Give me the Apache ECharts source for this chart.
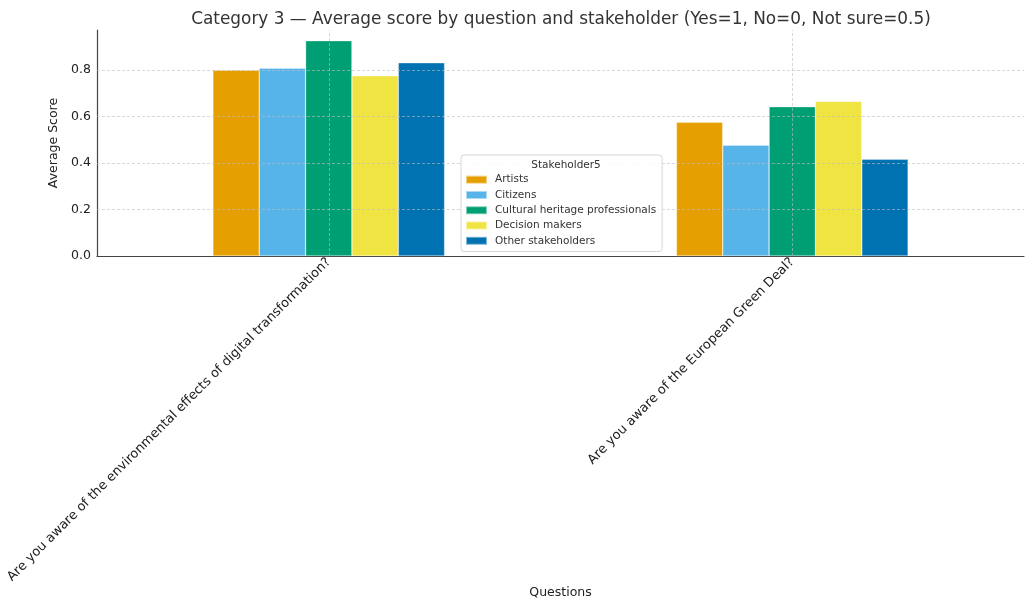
<!DOCTYPE html>
<html>
<head>
<meta charset="utf-8">
<script src="https://cdn.jsdelivr.net/npm/echarts@6/dist/echarts.min.js"></script>
<style>html,body{margin:0;padding:0;background:#fff}#c{width:1025px;height:607px}</style>
</head>
<body>
<div id="c"></div>
<script>
const questions = [
  "Are you aware of the environmental effects of digital transformation?",
  "Are you aware of the European Green Deal?"
];
const stakeholders = ["Artists", "Citizens", "Cultural heritage professionals", "Decision makers", "Other stakeholders"];
const artists = [0.799, 0.575];
const citizens = [0.808, 0.477];
const heritagePros = [0.926, 0.642];
const decisionMakers = [0.775, 0.665];
const otherStakeholders = [0.831, 0.416];
const yTicks = [0.0, 0.2, 0.4, 0.6, 0.8];

const seriesValues = [artists, citizens, heritagePros, decisionMakers, otherStakeholders];
const colors = ["#E69F00", "#56B4E9", "#009E73", "#F0E442", "#0072B2"];
const font = "DejaVu Sans";
const gridLine = {color: 'rgba(190,190,190,0.75)', type: [3, 2], width: 0.8};

const hMarks = yTicks.filter(v => v > 0).map(v => ({yAxis: v}));
const vMarks = questions.map(q => ({xAxis: q}));

const chart = echarts.init(document.getElementById('c'), null, {renderer: 'canvas'});
chart.setOption({
  animation: false,
  textStyle: {fontFamily: font},
  title: [
    {text: "Category 3 \u2014 Average score by question and stakeholder (Yes=1, No=0, Not sure=0.5)",
     left: 556, top: 6, textAlign: 'center',
     textStyle: {fontFamily: font, fontSize: 16.9, fontWeight: 'normal', color: '#333'}},
    {text: "Stakeholder5", left: 561, top: 155, textAlign: 'center', z: 12,
     textStyle: {fontFamily: font, fontSize: 10.5, fontWeight: 'normal', color: '#333'}}
  ],
  legend: {
    data: stakeholders,
    orient: 'vertical',
    left: 461, top: 155,
    width: 200,
    z: 10,
    padding: [18, 6, 4, 4],
    borderColor: '#d6d6d6', borderWidth: 1, borderRadius: 3,
    backgroundColor: 'rgba(255,255,255,0.85)',
    itemWidth: 21, itemHeight: 8, itemGap: 2,
    icon: 'rect',
    textStyle: {fontFamily: font, fontSize: 10.5, color: '#333', lineHeight: 13.3, padding: [0, 0, 0, 3]},
    selectedMode: false
  },
  grid: {left: 97, right: 1, top: 30, bottom: 351, containLabel: false},
  xAxis: {
    type: 'category',
    data: questions,
    boundaryGap: true,
    name: 'Questions', nameLocation: 'middle', nameGap: 330,
    nameTextStyle: {fontFamily: font, fontSize: 12.5, color: '#222'},
    axisLine: {lineStyle: {color: '#444', width: 1.2}},
    axisTick: {show: true, alignWithLabel: true, inside: true, length: 3, lineStyle: {color: '#333'}},
    axisLabel: {rotate: 45, fontFamily: font, fontSize: 13, color: '#222', margin: 4, interval: 0},
    splitLine: {show: false}
  },
  yAxis: {
    type: 'value',
    min: 0, max: 0.972, interval: 0.2,
    name: 'Average Score', nameLocation: 'middle', nameGap: 31,
    nameTextStyle: {fontFamily: font, fontSize: 12.5, color: '#222'},
    axisLine: {show: true, lineStyle: {color: '#444', width: 1.2}},
    axisTick: {show: false},
    axisLabel: {fontFamily: font, fontSize: 12.5, color: '#222', margin: 6,
      formatter: v => yTicks.some(t => Math.abs(t - v) < 1e-6) ? v.toFixed(1) : ''},
    splitLine: {show: false}
  },
  series: stakeholders.map((name, i) => ({
    name: name,
    type: 'bar',
    data: seriesValues[i],
    barGap: '0%',
    barCategoryGap: '50%',
    itemStyle: {color: colors[i], borderColor: 'rgba(255,255,255,0.5)', borderWidth: 0.6},
    markLine: (i === 0 || i === 2) ? {
      silent: true, symbol: 'none', z: 5,
      label: {show: false},
      lineStyle: gridLine,
      data: i === 0 ? hMarks : vMarks
    } : undefined
  }))
});
</script>
</body>
</html>
